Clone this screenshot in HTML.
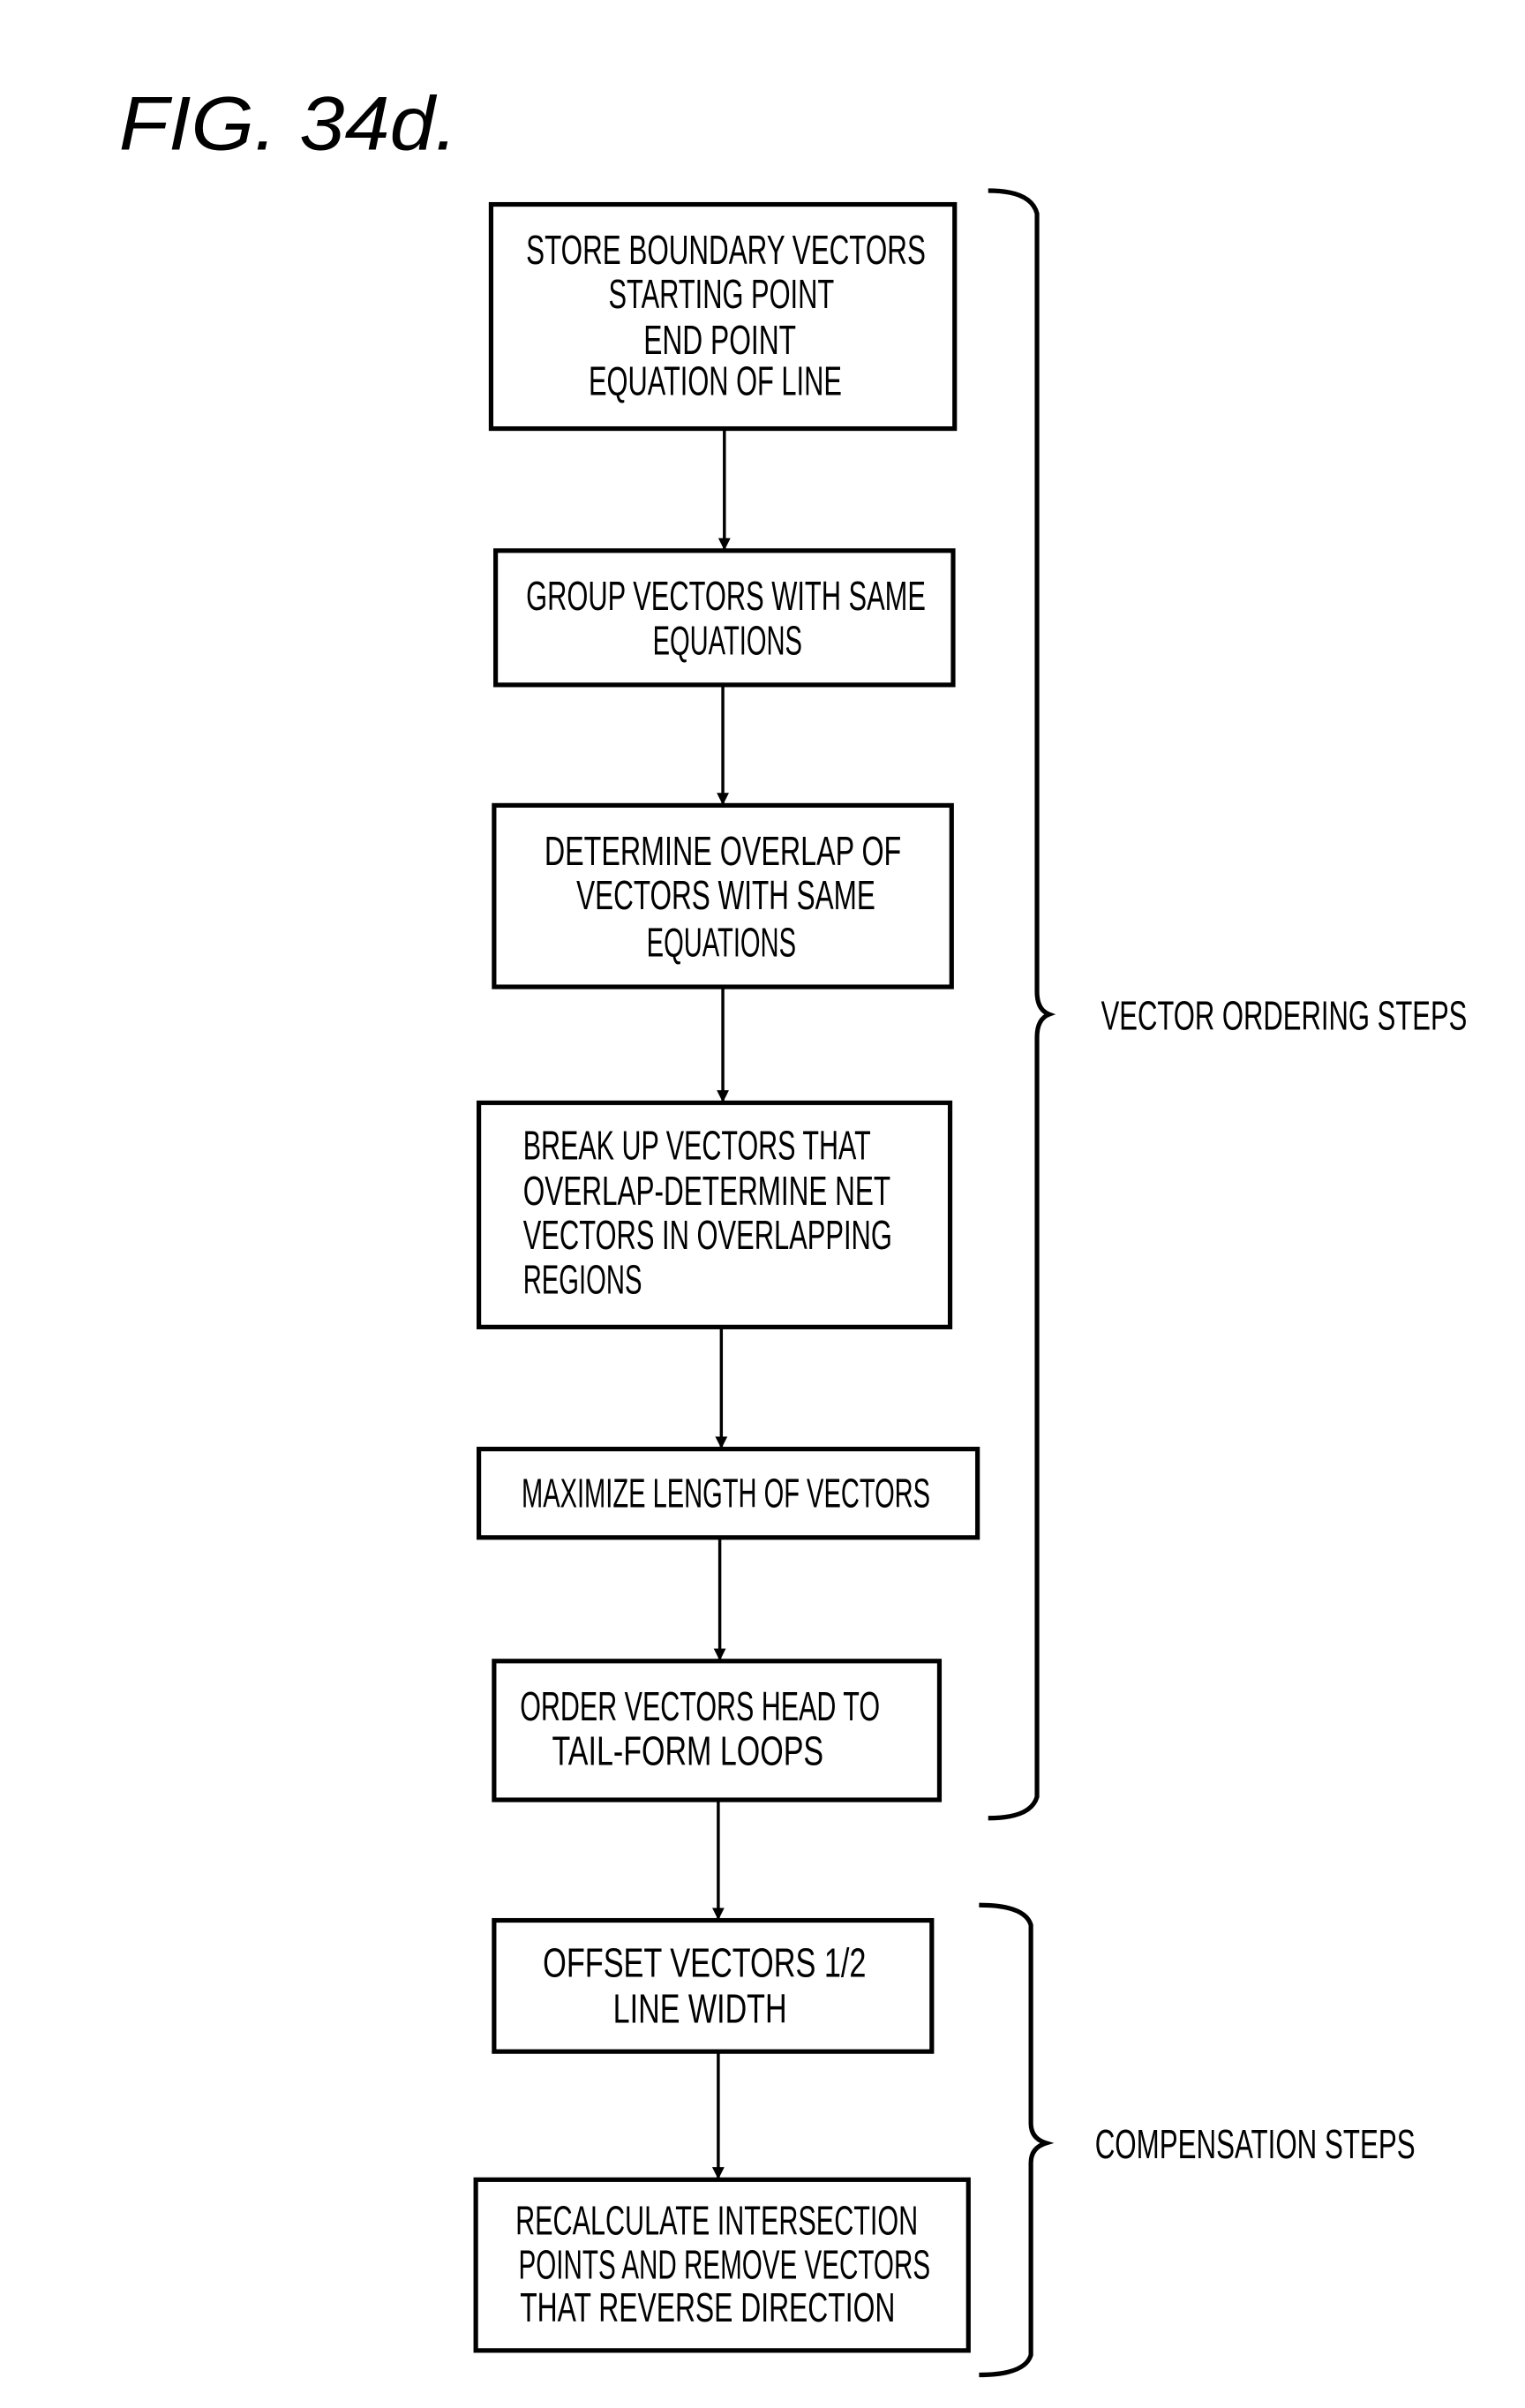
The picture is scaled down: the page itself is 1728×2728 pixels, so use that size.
<!DOCTYPE html>
<html><head><style>html,body{margin:0;padding:0;background:#fff}svg{display:block}</style></head><body>
<svg width="1728" height="2728" viewBox="0 0 1000 1578.7" xmlns="http://www.w3.org/2000/svg">
<defs><marker id="a" viewBox="0 0 10 10" refX="9" refY="5" markerWidth="4" markerHeight="4" orient="auto"><path d="M0,0L10,5L0,10z" fill="#000"/></marker></defs>
<g font-family="Liberation Sans, sans-serif" fill="#000">
<text x="78" y="98" font-size="50" font-style="italic" textLength="222" lengthAdjust="spacingAndGlyphs">FIG. 34d.</text>
</g>
<g fill="none" stroke="#000" stroke-width="3">
<rect x="322" y="134" width="304" height="147"/>
<rect x="325" y="361" width="300" height="88"/>
<rect x="324" y="528" width="300" height="119"/>
<rect x="314" y="723" width="309" height="147"/>
<rect x="314" y="950" width="327" height="58"/>
<rect x="324" y="1089" width="292" height="91"/>
<rect x="324" y="1259" width="287" height="86"/>
<rect x="312" y="1429" width="323" height="112"/>
</g>
<g stroke="#000" stroke-width="2" marker-end="url(#a)">
<line x1="475" y1="281" x2="475" y2="360"/>
<line x1="474" y1="449" x2="474" y2="527"/>
<line x1="474" y1="647" x2="474" y2="722"/>
<line x1="473" y1="870" x2="473" y2="949"/>
<line x1="472" y1="1008" x2="472" y2="1088"/>
<line x1="471" y1="1180" x2="471" y2="1258"/>
<line x1="471" y1="1345" x2="471" y2="1428"/>
</g>
<g fill="none" stroke="#000" stroke-width="3">
<path d="M648,125 Q676,125 680,140 L680,650 Q680,662 688,665 Q680,668 680,680 L680,1178 Q676,1192 648,1192"/>
<path d="M642,1249 Q672,1249 676,1262 L676,1392 Q676,1402 686,1405 Q676,1408 676,1418 L676,1544 Q672,1557 642,1557"/>
</g>
<g font-family="Liberation Sans, sans-serif" font-size="27" fill="#000" text-anchor="middle" lengthAdjust="spacingAndGlyphs">
<text x="476" y="173" textLength="262" lengthAdjust="spacingAndGlyphs">STORE  BOUNDARY VECTORS</text>
<text x="473" y="202" textLength="148" lengthAdjust="spacingAndGlyphs">STARTING POINT</text>
<text x="472" y="232" textLength="100" lengthAdjust="spacingAndGlyphs">END POINT</text>
<text x="469" y="259" textLength="166" lengthAdjust="spacingAndGlyphs">EQUATION OF LINE</text>
<text x="476" y="400" textLength="262" lengthAdjust="spacingAndGlyphs">GROUP VECTORS WITH SAME</text>
<text x="477" y="429" textLength="98" lengthAdjust="spacingAndGlyphs">EQUATIONS</text>
<text x="474" y="567" textLength="234" lengthAdjust="spacingAndGlyphs">DETERMINE OVERLAP OF</text>
<text x="476" y="596" textLength="196" lengthAdjust="spacingAndGlyphs">VECTORS WITH SAME</text>
<text x="473" y="627" textLength="98" lengthAdjust="spacingAndGlyphs">EQUATIONS</text>
<g text-anchor="start">
<text x="343" y="760" textLength="228" lengthAdjust="spacingAndGlyphs">BREAK UP VECTORS THAT</text>
<text x="343" y="790" textLength="241" lengthAdjust="spacingAndGlyphs">OVERLAP-DETERMINE NET</text>
<text x="343" y="819" textLength="242" lengthAdjust="spacingAndGlyphs">VECTORS IN OVERLAPPING</text>
<text x="343" y="848" textLength="78" lengthAdjust="spacingAndGlyphs">REGIONS</text>
</g>
<text x="476" y="988" textLength="268" lengthAdjust="spacingAndGlyphs">MAXIMIZE LENGTH OF VECTORS</text>
<text x="459" y="1128" textLength="236" lengthAdjust="spacingAndGlyphs">ORDER VECTORS HEAD TO</text>
<text x="451" y="1157" textLength="178" lengthAdjust="spacingAndGlyphs">TAIL-FORM  LOOPS</text>
<text x="462" y="1296" textLength="212" lengthAdjust="spacingAndGlyphs">OFFSET VECTORS  1/2</text>
<text x="459" y="1326" textLength="114" lengthAdjust="spacingAndGlyphs">LINE  WIDTH</text>
<text x="470" y="1465" textLength="264" lengthAdjust="spacingAndGlyphs">RECALCULATE INTERSECTION</text>
<text x="475" y="1494" textLength="270" lengthAdjust="spacingAndGlyphs">POINTS AND REMOVE VECTORS</text>
<text x="464" y="1522" textLength="246" lengthAdjust="spacingAndGlyphs">THAT REVERSE DIRECTION</text>
<g text-anchor="start">
<text x="722" y="675" textLength="240" lengthAdjust="spacingAndGlyphs">VECTOR ORDERING STEPS</text>
<text x="718" y="1415" textLength="210" lengthAdjust="spacingAndGlyphs">COMPENSATION  STEPS</text>
</g>
</g>
</svg>
</body></html>
